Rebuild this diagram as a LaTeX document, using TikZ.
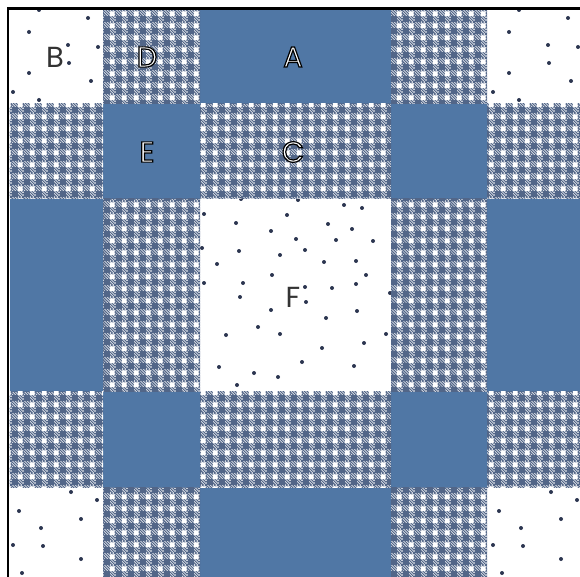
\documentclass[tikz,border=0pt]{standalone}
\usepackage{fontspec}
\setmainfont{Poppins}
\usetikzlibrary{patterns}

\definecolor{quiltblue}{RGB}{80,119,165}
\definecolor{checkblue}{RGB}{82,102,136}
\definecolor{dotblue}{RGB}{44,54,80}

% gingham tile: solid square, white square, hatched stripes
\pgfdeclarepatterninherentlycolored{gingham}{\pgfpointorigin}{\pgfpoint{11.5pt}{11.5pt}}{\pgfpoint{11.5pt}{11.5pt}}{
  \pgfsetcolor{checkblue}
  \pgfsetlinewidth{1.2pt}
  \foreach \k in {-1,...,9}{
    \pgfpathmoveto{\pgfpoint{2.875*\k pt + 1pt}{-1pt}}
    \pgfpathlineto{\pgfpoint{-1pt}{2.875*\k pt + 1pt}}
  }
  \pgfusepath{stroke}
  \pgfpathrectangle{\pgfpointorigin}{\pgfpoint{6pt}{6pt}}
  \pgfusepath{fill}
  \pgfsetcolor{white}
  \pgfpathrectangle{\pgfpoint{6pt}{6pt}}{\pgfpoint{5pt}{5pt}}
  \pgfusepath{fill}
}

% white letters with a black outline
\newcommand\outlined[1]{\special{pdf:literal direct 0 G 1.2 w 2 Tr}#1\special{pdf:literal direct 0 Tr}}

\tikzset{
  check/.style={pattern=gingham},
  patch/.style={fill=quiltblue},
  speck/.style={fill=dotblue},
  plainlbl/.style={text=black!80, font=\fontsize{29}{32}\selectfont},
  outlbl/.style={text=white, font=\fontsize{29}{32}\selectfont}
}

\begin{document}
\begin{tikzpicture}[x=1pt,y=-1pt]
  \fill[white] (0,0) rectangle (580,577);
  \useasboundingbox (0,0) rectangle (580,577);

  % specks in the white squares
  \foreach \dx in {0,480}{
    \foreach \x/\y in {39/10,88/18,29/32,68/45,98/47,69/63,29/73,91/81,13/92,39/100}
      \fill[speck] (\x+\dx,\y) circle (2);
    \foreach \x/\y in {71/492,97/500,19/511,81/519,41/528,13/545,43/546,81/559,22/573}
      \fill[speck] (\x+\dx,\y) circle (2);
  }
  \foreach \x/\y in {241/199,298/200,344/205,362/208,204/214,287/215,236/223,328/224,
      271/231,352/229,296/239,336/240,373/241,202/248,239/251,305/250,280/255,217/264,
      324/262,356/261,272/275,366/275,204/283,243/283,305/287,332/288,356/284,240/297,
      306/302,390/293,271/310,357/311,326/318,258/327,226/335,280/334,386/334,364/343,
      322/348,302/362,354/366,219/367,254/373,278/377,237/385}
    \fill[speck] (\x,\y) circle (2);

  % plain blue squares
  \foreach \xa/\ya/\xb/\yb in {200/10/391/104, 103/104/200/199, 391/104/487/199,
      9.5/199/103/391.5, 487/199/580/391.5, 103/391.5/200/487.5,
      391/391.5/487/487.5, 200/487.5/391/577}
    \fill[patch] (\xa,\ya) rectangle (\xb,\yb);

  % gingham squares
  \foreach \xa/\ya/\xb/\yb in {103/10/200/104, 391/10/487/104, 9.5/104/103/199,
      200/104/391/199, 487/104/580/199, 103/199/200/391.5, 391/199/487/391.5,
      9.5/391.5/103/487.5, 200/391.5/391/487.5, 487/391.5/580/487.5,
      103/487.5/200/577, 391/487.5/487/577}
    \fill[check] (\xa,\ya) rectangle (\xb,\yb);

  \draw[line width=2.7pt] (8,577) -- (8,8.7) -- (580,8.7); % top and left edge

  \node[plainlbl] (B) at (55,57) {B};
  \node[outlbl] (D) at (147,57) {\outlined{D}};
  \node[outlbl] (A) at (293,57) {\outlined{A}};
  \node[outlbl] (E) at (147,152) {\outlined{E}};
  \node[outlbl] (C) at (293,152) {\outlined{C}};
  \node[plainlbl] (F) at (293,297) {F};
\end{tikzpicture}
\end{document}
